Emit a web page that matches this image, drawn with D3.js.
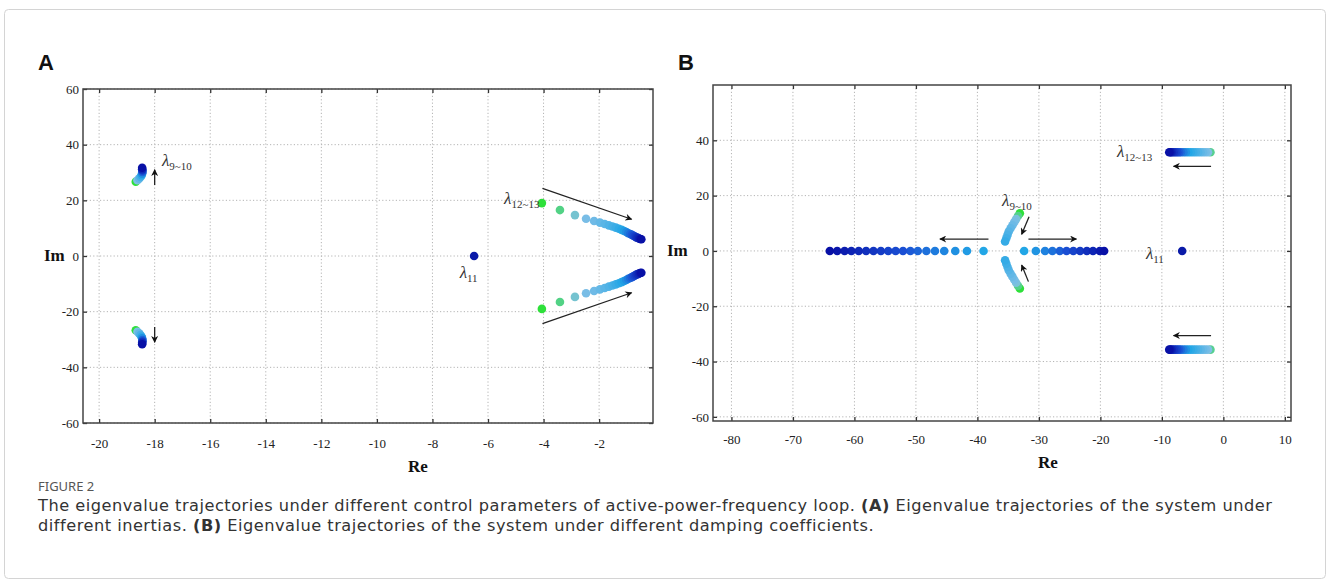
<!DOCTYPE html>
<html>
<head>
<meta charset="utf-8">
<script src="https://cdn.jsdelivr.net/npm/d3@7"></script>
<style>
body { margin: 0; background: #fff; }
svg { display: block; }
</style>
</head>
<body>
<script>
// panel A : different inertias
const aTicksX = [-20, -18, -16, -14, -12, -10, -8, -6, -4, -2]
const aTicksY = [60, 40, 20, 0, -20, -40, -60]

const a910Re = [-18.68, -18.62, -18.56, -18.51, -18.47, -18.45, -18.44, -18.44, -18.45, -18.45]
const a910Im = [26.7, 27.2, 27.8, 28.4, 29.0, 29.6, 30.2, 30.7, 31.2, 31.7]

const a11Re = [-6.5]
const a11Im = [0]

const a1213Re = [-4.06, -3.41, -2.87, -2.47, -2.18, -1.97, -1.80, -1.65, -1.52, -1.40, -1.29, -1.19,
  -1.10, -1.02, -0.95, -0.88, -0.82, -0.76, -0.71, -0.66, -0.61, -0.56, -0.52, -0.48]
const a1213Im = [19.0, 16.5, 14.7, 13.4, 12.6, 12.0, 11.5, 11.0, 10.6, 10.2, 9.8, 9.4,
  9.0, 8.6, 8.2, 7.9, 7.6, 7.3, 7.0, 6.7, 6.5, 6.3, 6.1, 6.0]

// panel B : different damping coefficients
const bTicksX = [-80, -70, -60, -50, -40, -30, -20, -10, 0, 10]
const bTicksY = [40, 20, 0, -20, -40, -60]

const b910Re = [-33.1, -33.4, -33.7, -34.0, -34.3, -34.6, -34.9, -35.1, -35.3, -35.5]
const b910Im = [13.6, 12.6, 11.5, 10.4, 9.3, 8.2, 7.0, 5.8, 4.6, 3.4]

const bLeftRe = [-39.0, -41.7, -43.6, -45.4, -46.9, -48.3, -49.7, -50.9, -52.1, -53.3, -54.5,
  -55.7, -56.9, -58.1, -59.3, -60.5, -61.6, -62.8, -64.0]
const bRightRe = [-32.4, -30.5, -29.0, -27.8, -26.6, -25.5, -24.4, -23.3, -22.2, -21.2, -20.1, -19.4]

const b11Re = [-6.7]
const b11Im = [0]

const b1213Re = [-2.1, -2.5, -2.9, -3.3, -3.7, -4.1, -4.5, -4.9, -5.3, -5.7, -6.1, -6.5,
  -6.9, -7.2, -7.5, -7.8, -8.1, -8.4, -8.6, -8.8]
const b1213Im = [35.7, 35.7, 35.7, 35.7, 35.7, 35.7, 35.7, 35.7, 35.7, 35.7, 35.7, 35.7,
  35.7, 35.7, 35.7, 35.7, 35.7, 35.7, 35.7, 35.7]

const captionTitle = "FIGURE 2"
const captionLine1 = ["The eigenvalue trajectories under different control parameters of active-power-frequency loop. ", "(A)", " Eigenvalue trajectories of the system under"]
const captionLine2 = ["different inertias. ", "(B)", " Eigenvalue trajectories of the system under different damping coefficients."]


let width = 1330
let height = 583

let svg = d3.select("body").append("svg")
.attr("width", width)
.attr("height", height)
.style("font-family", "'Liberation Serif', 'Times New Roman', serif")

svg.append("rect")
.attr("x", 4.5).attr("y", 9.5)
.attr("width", 1321).attr("height", 569)
.attr("rx", 4)
.style("fill", "#fff")
.style("stroke", "#d4d4d4")

svg.append("defs").append("marker")
.attr("id", "head")
.attr("viewBox", "0 0 10 10")
.attr("refX", 9).attr("refY", 5)
.attr("markerWidth", 9).attr("markerHeight", 7)
.attr("markerUnits", "userSpaceOnUse")
.attr("orient", "auto")
.append("path")
.attr("d", "M0,0 L10,5 L0,10 L3,5 z")
.style("fill", "#111")

// green -> pale blue -> cyan -> deep blue
const ramp = d3.scaleLinear()
.domain([0, 0.1, 0.5, 0.72, 1])
.range(["#2ee03a", "#80bfe6", "#22a6e6", "#1a50d4", "#0810a6"])

const makePanel = (cfg) => {

	let x = d3.scaleLinear().domain(cfg.xDomain).range([cfg.left, cfg.right])
	let y = d3.scaleLinear().domain(cfg.yDomain).range([cfg.bottom, cfg.top])

	let g = svg.append("g")

	// dotted grid
	g.selectAll(".gx").data(cfg.ticksX).enter().append("line")
	.attr("x1", d => x(d)).attr("x2", d => x(d))
	.attr("y1", cfg.top).attr("y2", cfg.bottom)
	.style("stroke", "#b4b4b4").style("stroke-dasharray", "1.2,2.2")

	g.selectAll(".gy").data(cfg.ticksY).enter().append("line")
	.attr("y1", d => y(d)).attr("y2", d => y(d))
	.attr("x1", cfg.left).attr("x2", cfg.right)
	.style("stroke", "#b4b4b4").style("stroke-dasharray", "1.2,2.2")

	// inward ticks on all four sides
	let bottomAxis = g.append("g").attr("transform", `translate(0,${cfg.bottom})`)
	.call(d3.axisBottom(x).tickValues(cfg.ticksX).tickSize(-4).tickPadding(cfg.xPad).tickFormat(d3.format("d")))
	let topAxis = g.append("g").attr("transform", `translate(0,${cfg.top})`)
	.call(d3.axisTop(x).tickValues(cfg.ticksX).tickSize(-4).tickFormat(""))
	let leftAxis = g.append("g").attr("transform", `translate(${cfg.left},0)`)
	.call(d3.axisLeft(y).tickValues(cfg.ticksY).tickSize(-4).tickPadding(4).tickFormat(d3.format("d")))
	let rightAxis = g.append("g").attr("transform", `translate(${cfg.right},0)`)
	.call(d3.axisRight(y).tickValues(cfg.ticksY).tickSize(-4).tickFormat(""))

	;[bottomAxis, topAxis, leftAxis, rightAxis].forEach(a => {
		a.select(".domain").remove()
		a.selectAll(".tick line").style("stroke", "#333").style("stroke-width", 1.3)
		a.selectAll("text")
		.style("font-family", "'Liberation Serif', 'Times New Roman', serif")
		.style("font-size", "13px")
		.style("fill", "#222")
		.text(d => d < 0 ? "-" + Math.abs(d) : d)
	})
	topAxis.selectAll("text").remove()
	rightAxis.selectAll("text").remove()

	g.append("rect")
	.attr("x", cfg.left).attr("y", cfg.top)
	.attr("width", cfg.right - cfg.left).attr("height", cfg.bottom - cfg.top)
	.style("fill", "none").style("stroke", "#444").style("stroke-width", 1.5)

	g.append("text")
	.attr("x", (cfg.left + cfg.right) / 2 + cfg.reShift).attr("y", cfg.reY)
	.attr("text-anchor", "middle")
	.style("font-size", "17px").style("font-weight", "bold").style("fill", "#111")
	.text("Re")

	g.append("text")
	.attr("x", cfg.imX).attr("y", y(0) + 5)
	.style("font-size", "17px").style("font-weight", "bold").style("fill", "#111")
	.text("Im")

	g.append("text")
	.attr("x", cfg.letterX).attr("y", 70)
	.style("font-family", "'Liberation Sans', Arial, sans-serif")
	.style("font-size", "22px").style("font-weight", "bold").style("fill", "#111")
	.text(cfg.letter)

	// trajectories
	cfg.series.forEach(s => {
		let pts = s.re.map((r, i) => ({ re: r, im: s.im ? s.im[i] : 0, t: s.t0 + (s.t1 - s.t0) * (s.re.length > 1 ? i / (s.re.length - 1) : 1) }))
		let mirrored = s.mirror ? pts.map(p => ({ re: p.re, im: -p.im, t: p.t })) : []
		g.selectAll(null)
		.data(pts.concat(mirrored))
		.enter()
		.append("circle")
		.attr("cx", d => x(d.re))
		.attr("cy", d => y(d.im))
		.attr("r", cfg.r)
		.style("fill", d => s.color || ramp(d.t))
	})

	cfg.arrows.forEach(a => {
		g.append("line")
		.attr("x1", x(a[0])).attr("y1", y(a[1]))
		.attr("x2", x(a[2])).attr("y2", y(a[3]))
		.attr("marker-end", "url(#head)")
		.style("stroke", "#222").style("stroke-width", 1.3)
	})

	cfg.labels.forEach(l => {
		let t = g.append("text")
		.attr("x", x(l.re)).attr("y", y(l.im))
		.style("fill", "#333")
		t.append("tspan").style("font-style", "italic").style("font-size", "17px").text("λ")
		t.append("tspan").attr("dy", 4).style("font-size", "11px").text(l.sub)
	})
}

makePanel({
	letter: "A", letterX: 38,
	xDomain: [-20.58, -0.06], yDomain: [-60, 60],
	left: 83, right: 653, top: 89, bottom: 423,
	ticksX: aTicksX, ticksY: aTicksY,
	xPad: 16, reY: 472, reShift: 50, imX: 44, r: 4.3,
	series: [
		{ re: a910Re, im: a910Im, mirror: true, t0: 0, t1: 1 },
		{ re: a11Re, im: a11Im, color: "#0a1aa8", t0: 1, t1: 1 },
		{ re: a1213Re, im: a1213Im, mirror: true, t0: 0, t1: 1 }
	],
	arrows: [
		[-18.0, 25.5, -18.0, 31.0],
		[-18.0, -25.5, -18.0, -31.0],
		[-4.04, 24.3, -0.83, 13.2],
		[-4.04, -24.3, -0.83, -13.2]
	],
	labels: [
		{ re: -17.74, im: 32.3, sub: "9~10" },
		{ re: -7.02, im: -8.0, sub: "11" },
		{ re: -5.42, im: 18.6, sub: "12~13" }
	]
})

makePanel({
	letter: "B", letterX: 678,
	xDomain: [-83, 11], yDomain: [-61.5, 60],
	left: 713, right: 1291, top: 85, bottom: 421,
	ticksX: bTicksX, ticksY: bTicksY,
	xPad: 14, reY: 468, reShift: 46, imX: 667, r: 4.3,
	series: [
		{ re: b910Re, im: b910Im, mirror: true, t0: 0, t1: 0.42 },
		{ re: bLeftRe, t0: 0.5, t1: 1 },
		{ re: bRightRe, t0: 0.5, t1: 1 },
		{ re: b11Re, im: b11Im, color: "#0a1aa8", t0: 1, t1: 1 },
		{ re: b1213Re, im: b1213Im, mirror: true, t0: 0.05, t1: 1 }
	],
	arrows: [
		[-38.2, 4.3, -46.1, 4.3],
		[-31.7, 4.3, -23.9, 4.3],
		[-31.6, 12.4, -32.8, 6.0],
		[-31.7, -11.1, -32.8, -5.1],
		[-2.0, 30.6, -8.1, 30.6],
		[-2.0, -30.6, -8.1, -30.6]
	],
	labels: [
		{ re: -36.0, im: 16.4, sub: "9~10" },
		{ re: -12.6, im: -2.9, sub: "11" },
		{ re: -17.3, im: 33.9, sub: "12~13" }
	]
})

// caption
let cap = svg.append("g").style("font-family", "'DejaVu Sans', 'Noto Sans', sans-serif")

cap.append("text")
.attr("x", 38).attr("y", 491)
.style("font-family", "'Noto Sans', sans-serif")
.style("font-size", "13px").style("fill", "#555")
.text(captionTitle)

;[captionLine1, captionLine2].forEach((line, k) => {
	let t = cap.append("text")
	.attr("x", 38).attr("y", 511 + k * 19.5)
	.style("font-size", "16.2px").style("letter-spacing", "0.5px").style("fill", "#333")
	line.forEach((part, i) => {
		t.append("tspan").style("font-weight", i === 1 ? "bold" : "normal").text(part)
	})
})
</script>
</body>
</html>
